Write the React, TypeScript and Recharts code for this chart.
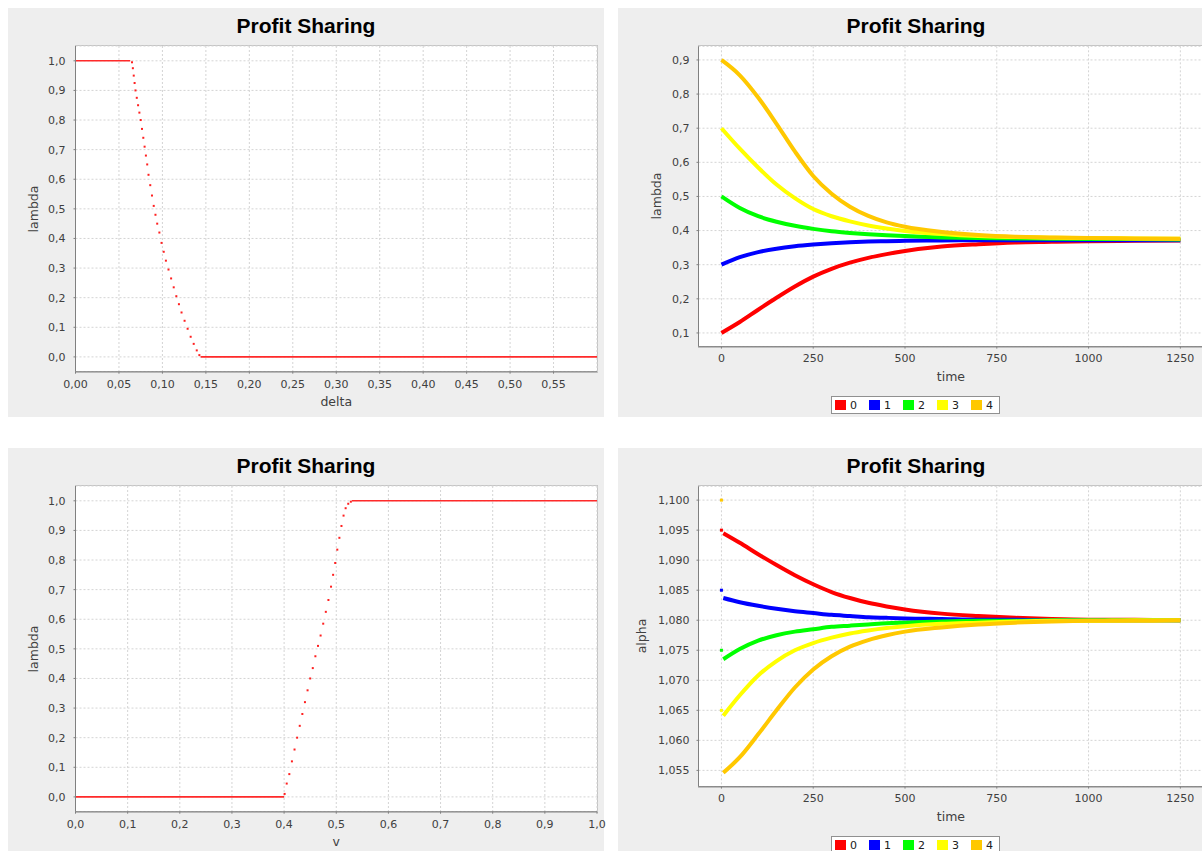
import { CartesianGrid, ComposedChart, Line, Scatter, XAxis, YAxis } from "recharts";

const title = "Profit Sharing";
const seriesNames = ["0", "1", "2", "3", "4"];
const seriesColors = ["#FF0000", "#0000FF", "#00FF00", "#FFFF00", "#FFC800"];

// top left: lambda over delta
const deltaTicks = [0, 0.05, 0.1, 0.15, 0.2, 0.25, 0.3, 0.35, 0.4, 0.45, 0.5, 0.55];
const unitTicks = [0, 0.1, 0.2, 0.3, 0.4, 0.5, 0.6, 0.7, 0.8, 0.9, 1.0];
const deltaFlatHigh = [0, 0.063];
const deltaFlatLow = [0.144, 0.6];
const dropDelta = [0.065, 0.066, 0.067, 0.068, 0.069, 0.0705, 0.072, 0.0735, 0.075, 0.0765, 0.078, 0.0795, 0.081, 0.0825, 0.084, 0.086, 0.088, 0.09, 0.092, 0.094, 0.0965, 0.099, 0.1015, 0.104, 0.107, 0.11, 0.113, 0.116, 0.119, 0.122, 0.1255, 0.129, 0.1325, 0.136, 0.1395, 0.1425];
const dropLambda = [0.995, 0.975, 0.95, 0.925, 0.9, 0.875, 0.85, 0.825, 0.8, 0.77, 0.74, 0.71, 0.68, 0.65, 0.615, 0.58, 0.545, 0.51, 0.48, 0.45, 0.42, 0.385, 0.355, 0.325, 0.295, 0.265, 0.235, 0.205, 0.178, 0.15, 0.122, 0.095, 0.068, 0.044, 0.022, 0.006];

// bottom left: lambda over v
const vTicks = [0, 0.1, 0.2, 0.3, 0.4, 0.5, 0.6, 0.7, 0.8, 0.9, 1.0];
const vFlatLow = [0, 0.4];
const vFlatHigh = [0.53, 1.0];
const riseV = [0.401, 0.405, 0.41, 0.415, 0.42, 0.425, 0.43, 0.435, 0.44, 0.445, 0.45, 0.455, 0.46, 0.465, 0.47, 0.475, 0.48, 0.485, 0.49, 0.494, 0.498, 0.502, 0.506, 0.51, 0.514, 0.518, 0.523, 0.528];
const riseLambda = [0.01, 0.045, 0.077, 0.12, 0.16, 0.2, 0.24, 0.28, 0.32, 0.36, 0.4, 0.435, 0.475, 0.51, 0.545, 0.585, 0.625, 0.665, 0.71, 0.75, 0.79, 0.835, 0.875, 0.915, 0.95, 0.975, 0.99, 0.997];

// right column: runs over time
const timeTicks = [0, 250, 500, 750, 1000, 1250];
const lambdaTicks = [0.1, 0.2, 0.3, 0.4, 0.5, 0.6, 0.7, 0.8, 0.9];
const alphaTicks = [1.055, 1.06, 1.065, 1.07, 1.075, 1.08, 1.085, 1.09, 1.095, 1.1];

const lambdaTime = [0, 50, 100, 150, 200, 250, 300, 350, 400, 450, 500, 600, 700, 800, 900, 1000, 1125, 1250];
const lambda0 = [0.1, 0.132, 0.168, 0.203, 0.236, 0.265, 0.288, 0.306, 0.32, 0.331, 0.34, 0.353, 0.36, 0.365, 0.367, 0.369, 0.37, 0.371];
const lambda1 = [0.3, 0.322, 0.337, 0.347, 0.354, 0.359, 0.363, 0.366, 0.368, 0.369, 0.37, 0.371, 0.372, 0.372, 0.372, 0.372, 0.372, 0.372];
const lambda2 = [0.5, 0.466, 0.442, 0.426, 0.414, 0.405, 0.398, 0.393, 0.389, 0.386, 0.384, 0.38, 0.378, 0.377, 0.376, 0.375, 0.375, 0.374];
const lambda3 = [0.7, 0.64, 0.585, 0.535, 0.495, 0.463, 0.442, 0.427, 0.415, 0.406, 0.399, 0.39, 0.384, 0.381, 0.379, 0.378, 0.377, 0.376];
const lambda4 = [0.9, 0.855, 0.79, 0.713, 0.632, 0.56, 0.508, 0.47, 0.443, 0.424, 0.411, 0.396, 0.387, 0.382, 0.38, 0.378, 0.377, 0.376];

const alphaTime = [5, 50, 100, 150, 200, 250, 300, 350, 400, 450, 500, 600, 700, 800, 900, 1000, 1125, 1250];
const alpha0 = [1.0945, 1.0929, 1.091, 1.0892, 1.0875, 1.086, 1.0847, 1.0837, 1.0829, 1.0823, 1.0818, 1.0811, 1.0807, 1.0804, 1.0802, 1.0801, 1.0801, 1.08];
const alpha1 = [1.0837, 1.083, 1.0824, 1.0819, 1.0815, 1.0812, 1.0809, 1.0807, 1.0805, 1.0804, 1.0803, 1.0802, 1.0801, 1.0801, 1.08, 1.08, 1.08, 1.08];
const alpha2 = [1.0735, 1.0752, 1.0766, 1.0775, 1.0781, 1.0785, 1.0789, 1.0791, 1.0793, 1.0795, 1.0796, 1.0798, 1.0799, 1.0799, 1.08, 1.08, 1.08, 1.08];
const alpha3 = [1.0641, 1.0675, 1.0708, 1.0732, 1.075, 1.0762, 1.0771, 1.0778, 1.0783, 1.0787, 1.079, 1.0794, 1.0796, 1.0798, 1.0799, 1.0799, 1.08, 1.08];
const alpha4 = [1.0546, 1.0572, 1.061, 1.065, 1.0688, 1.0718, 1.074, 1.0756, 1.0767, 1.0775, 1.0781, 1.0788, 1.0793, 1.0796, 1.0798, 1.0799, 1.0799, 1.08];
const alphaStart = [1.095, 1.085, 1.075, 1.065, 1.1];

const pairs = (xs: number[], ys: number[]) => xs.map((x, i) => ({ x, y: ys[i] }));
const flat = (xs: number[], y: number) => xs.map((x) => ({ x, y }));
const table = (xs: number[], series: number[][]) =>
  xs.map((x, i) => {
    const row: Record<string, number> = { x };
    series.forEach((s, k) => (row["s" + k] = s[i]));
    return row;
  });

const lambdaRows = table(lambdaTime, [lambda0, lambda1, lambda2, lambda3, lambda4]);
const alphaRows = table(alphaTime, [alpha0, alpha1, alpha2, alpha3, alpha4]);

const comma = (digits: number) => (v: number) => v.toFixed(digits).replace(".", ",");

const tickStyle = { fill: "#404040", fontSize: 11, fontFamily: "DejaVu Sans" };
const axisProps = {
  tick: tickStyle,
  tickLine: { stroke: "#808080" },
  axisLine: { stroke: "#808080" },
  tickSize: 2,
  interval: 0 as const,
  allowDataOverflow: true,
};
const gridProps = { stroke: "#d4d4d4", strokeDasharray: "2 2" };

const labelFont = { fontFamily: "DejaVu Sans", fontSize: 12.5, color: "#404040", lineHeight: "12.5px" };

const dotShape = (color: string, size: number) => (p: any) => (
  <rect x={p.cx - size / 2} y={p.cy - size / 2} width={size} height={size} fill={color} />
);

type Margin = { top: number; right: number; bottom: number; left: number };

type PanelProps = {
  left: number;
  top: number;
  width: number;
  chartWidth: number;
  plot: { left: number; top: number; right: number; bottom: number };
  xLabel: string;
  yLabel: string;
  yLabelX: number;
  xLabelTop: number;
  legend?: boolean;
  children: (m: Margin) => any;
};

function Panel({ left, top, width, chartWidth, plot, xLabel, yLabel, yLabelX, xLabelTop, legend, children }: PanelProps) {
  const height = 409;
  const margin = { top: plot.top, right: chartWidth - plot.right, bottom: height - plot.bottom - 30, left: plot.left - 40 };
  return (
    <div style={{ position: "absolute", left, top, width, height, background: "#EEEEEE" }}>
      <div
        style={{
          position: "absolute",
          left: plot.left,
          top: plot.top,
          width: plot.right - plot.left,
          height: plot.bottom - plot.top,
          background: "#FFFFFF",
          outline: "1px solid #c4c4c4",
        }}
      />
      <div style={{ position: "absolute", left: 0, top: 0 }}>{children(margin)}</div>
      <div
        style={{
          position: "absolute",
          left: 0,
          width: 596,
          top: 7,
          textAlign: "center",
          fontFamily: "Liberation Sans",
          fontWeight: "bold",
          fontSize: 21,
          lineHeight: "21px",
          color: "#000",
        }}
      >
        {title}
      </div>
      <div
        style={{
          ...labelFont,
          position: "absolute",
          left: plot.left,
          width: plot.right - plot.left,
          top: xLabelTop,
          textAlign: "center",
        }}
      >
        {xLabel}
      </div>
      <div
        style={{
          ...labelFont,
          position: "absolute",
          left: yLabelX,
          top: (plot.top + plot.bottom) / 2,
          transform: "translate(-50%, -50%) rotate(-90deg)",
          whiteSpace: "nowrap",
        }}
      >
        {yLabel}
      </div>
      {legend && (
        <div
          style={{
            position: "absolute",
            left: 213,
            top: 388,
            height: 18,
            boxSizing: "border-box",
            border: "1px solid #909090",
            background: "#FFFFFF",
            display: "flex",
            alignItems: "center",
            padding: "0 6px 0 3px",
            fontFamily: "DejaVu Sans",
            fontSize: 11,
            color: "#202020",
          }}
        >
          {seriesNames.map((name, i) => (
            <div key={name} style={{ display: "flex", alignItems: "center", marginRight: i < 4 ? 12 : 0 }}>
              <span style={{ width: 11, height: 10, background: seriesColors[i], marginRight: 4 }} />
              <span>{name}</span>
            </div>
          ))}
        </div>
      )}
    </div>
  );
}

function DeltaChart({ margin }: { margin: Margin }) {
  return (
    <ComposedChart width={606} height={409} margin={margin}>
      <CartesianGrid {...gridProps} />
      <XAxis type="number" dataKey="x" domain={[0, 0.6]} ticks={deltaTicks} tickFormatter={comma(2)} tickMargin={6} height={30} {...axisProps} />
      <YAxis type="number" domain={[-0.05, 1.05]} ticks={unitTicks} tickFormatter={comma(1)} tickMargin={8} width={40} {...axisProps} />
      <Line data={flat(deltaFlatHigh, 1)} dataKey="y" stroke="#FF2A2A" strokeWidth={1.6} dot={false} activeDot={false} isAnimationActive={false} />
      <Line data={flat(deltaFlatLow, 0)} dataKey="y" stroke="#FF2A2A" strokeWidth={1.6} dot={false} activeDot={false} isAnimationActive={false} />
      <Scatter data={pairs(dropDelta, dropLambda)} dataKey="y" shape={dotShape("#FF2020", 2)} isAnimationActive={false} />
    </ComposedChart>
  );
}

function VChart({ margin }: { margin: Margin }) {
  return (
    <ComposedChart width={606} height={409} margin={margin}>
      <CartesianGrid {...gridProps} />
      <XAxis type="number" dataKey="x" domain={[0, 1]} ticks={vTicks} tickFormatter={comma(1)} tickMargin={6} height={30} {...axisProps} />
      <YAxis type="number" domain={[-0.05, 1.05]} ticks={unitTicks} tickFormatter={comma(1)} tickMargin={8} width={40} {...axisProps} />
      <Line data={flat(vFlatLow, 0)} dataKey="y" stroke="#FF2A2A" strokeWidth={1.6} dot={false} activeDot={false} isAnimationActive={false} />
      <Line data={flat(vFlatHigh, 1)} dataKey="y" stroke="#FF2A2A" strokeWidth={1.6} dot={false} activeDot={false} isAnimationActive={false} />
      <Scatter data={pairs(riseV, riseLambda)} dataKey="y" shape={dotShape("#FF2020", 2)} isAnimationActive={false} />
    </ComposedChart>
  );
}

function TimeChart({ margin, rows, domain, ticks, digits, starts }: { margin: Margin; rows: any[]; domain: number[]; ticks: number[]; digits: number; starts?: number[] }) {
  return (
    <ComposedChart width={600} height={409} margin={margin} data={rows}>
      <CartesianGrid {...gridProps} />
      <XAxis type="number" dataKey="x" domain={[-62.5, 1312.5]} ticks={timeTicks} tickMargin={6} height={30} {...axisProps} />
      <YAxis type="number" domain={domain} ticks={ticks} tickFormatter={comma(digits)} tickMargin={7} width={40} {...axisProps} />
      {seriesNames.map((name, i) => (
        <Line
          key={name}
          name={name}
          dataKey={"s" + i}
          type="monotone"
          stroke={seriesColors[i]}
          strokeWidth={4}
          dot={false}
          activeDot={false}
          isAnimationActive={false}
        />
      ))}
      {starts &&
        starts.map((v, i) => (
          <Scatter key={"start" + i} data={[{ x: 0, y: v }]} dataKey="y" shape={dotShape(seriesColors[i], 3)} isAnimationActive={false} />
        ))}
    </ComposedChart>
  );
}

export default function App() {
  const leftPlot = { left: 67.5, top: 38, right: 589, bottom: 363.7 };
  const rightPlot = { left: 80.5, top: 38.3, right: 585.3, bottom: 338.6 };
  return (
    <div style={{ position: "fixed", left: 0, top: 0, width: 1202, height: 851, overflow: "hidden", background: "#FFFFFF" }}>
      <Panel left={8} top={8} width={596} chartWidth={606} plot={leftPlot} xLabel="delta" yLabel="lambda" yLabelX={26} xLabelTop={388}>
        {(m) => <DeltaChart margin={m} />}
      </Panel>
      <Panel left={618} top={8} width={600} chartWidth={600} plot={rightPlot} xLabel="time" yLabel="lambda" yLabelX={39} xLabelTop={363} legend>
        {(m) => <TimeChart margin={m} rows={lambdaRows} domain={[0.06, 0.94]} ticks={lambdaTicks} digits={1} />}
      </Panel>
      <Panel left={8} top={448} width={596} chartWidth={606} plot={leftPlot} xLabel="v" yLabel="lambda" yLabelX={26} xLabelTop={388}>
        {(m) => <VChart margin={m} />}
      </Panel>
      <Panel left={618} top={448} width={600} chartWidth={600} plot={rightPlot} xLabel="time" yLabel="alpha" yLabelX={24} xLabelTop={363} legend>
        {(m) => (
          <TimeChart margin={m} rows={alphaRows} domain={[1.0523, 1.1023]} ticks={alphaTicks} digits={3} starts={alphaStart} />
        )}
      </Panel>
    </div>
  );
}
